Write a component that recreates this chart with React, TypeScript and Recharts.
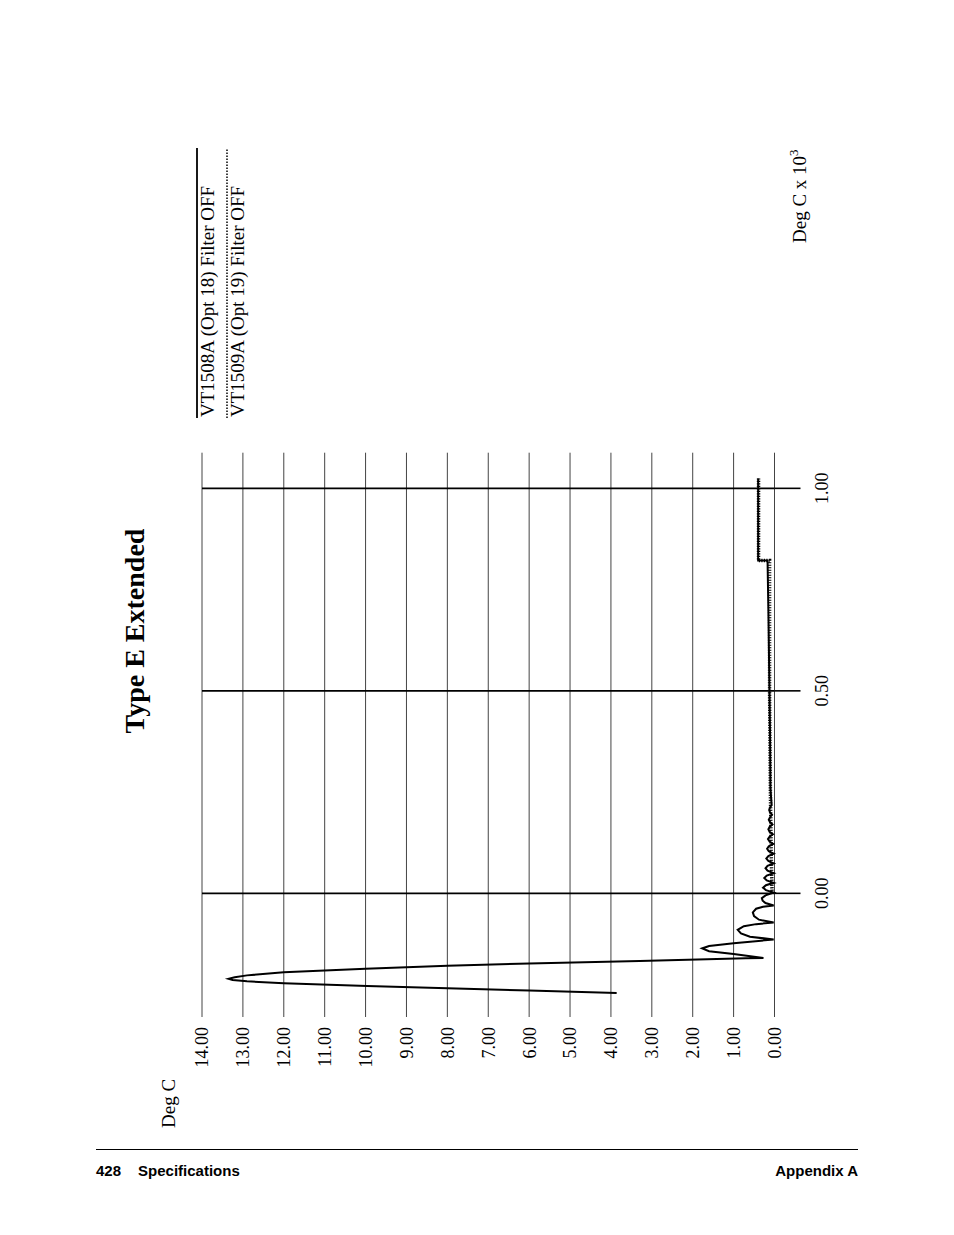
import { LineChart, Line, XAxis, YAxis, ReferenceLine, Legend } from 'recharts';

// the page is a scan with the chart turned on its side, so the chart is drawn
// upright in this box and then rotated -90deg onto the page
const CHART_W = 1235;
const CHART_H = 954;

const inputTicks = [0, 0.5, 1];
const degCTicks = [0, 1, 2, 3, 4, 5, 6, 7, 8, 9, 10, 11, 12, 13, 14];

// VT1508A (Opt 18) Filter OFF : input (Deg C x 10^3) -> error (Deg C)
const vt1508aInput = [
  -0.246, -0.240, -0.234, -0.229, -0.222, -0.217, -0.214, -0.211, -0.207, -0.2025, -0.195, -0.186, -0.179, -0.173, -0.167, -0.1605, -0.1595,
  -0.150, -0.143, -0.136, -0.130, -0.123, -0.114,
  -0.107, -0.099, -0.090, -0.081, -0.076, -0.072,
  -0.065, -0.056, -0.047, -0.038, -0.033, -0.030,
  -0.024, -0.018, -0.012, -0.005, 0.002,
  0.008, 0.014, 0.020, 0.026,
  0.032, 0.038, 0.044, 0.050,
  0.056, 0.062, 0.068, 0.074,
  0.080, 0.086, 0.092, 0.098,
  0.104, 0.110, 0.116, 0.122,
  0.128, 0.134, 0.140, 0.146,
  0.152, 0.158, 0.164, 0.170,
  0.176, 0.182, 0.188, 0.194,
  0.200, 0.206, 0.212, 0.218,
  0.26, 0.40, 0.55, 0.70, 0.822, 0.822, 0.90, 1.024,
];
const vt1508aError = [
  3.86, 6.0, 8.0, 9.96, 12.0, 12.9, 13.25, 13.35, 13.2, 12.9, 12.0, 10.0, 8.0, 6.0, 3.3, 0.7, 0.27,
  1.0, 1.6, 1.77, 1.6, 1.0, 0.02,
  0.6, 0.82, 0.9, 0.75, 0.45, 0.02,
  0.38, 0.5, 0.53, 0.45, 0.28, 0.02,
  0.22, 0.29, 0.31, 0.22, 0.02,
  0.21, 0.28, 0.21, 0.02,
  0.19, 0.25, 0.19, 0.02,
  0.17, 0.22, 0.17, 0.02,
  0.15, 0.2, 0.15, 0.02,
  0.14, 0.18, 0.14, 0.03,
  0.12, 0.16, 0.12, 0.04,
  0.12, 0.15, 0.12, 0.05,
  0.11, 0.14, 0.11, 0.06,
  0.11, 0.13, 0.11, 0.07,
  0.1, 0.11, 0.13, 0.15, 0.17, 0.4, 0.4, 0.4,
];

// VT1509A (Opt 19) Filter OFF
const vt1509aInput = [0.0, 0.1, 0.25, 0.5, 0.822, 0.822, 1.024];
const vt1509aError = [0.06, 0.08, 0.1, 0.12, 0.12, 0.39, 0.39];

const vt1508a = vt1508aInput.map((x, i) => ({ x, y: vt1508aError[i] }));
const vt1509a = vt1509aInput.map((x, i) => ({ x, y: vt1509aError[i] }));

const serif = '"Liberation Serif", "Times New Roman", serif';
const fmt = (v: number) => v.toFixed(2);

function LegendBox() {
  return (
    <svg width={272} height={70} style={{ display: 'block' }}>
      <line x1={0} y1={12} x2={270} y2={12} stroke="#000" strokeWidth={1.8} />
      <text x={1} y={29} fontFamily={serif} fontSize={19} fill="#000">VT1508A (Opt 18) Filter OFF</text>
      <line x1={0} y1={42} x2={270} y2={42} stroke="#000" strokeWidth={1.5} strokeDasharray="1.5 1.5" />
      <text x={1} y={59} fontFamily={serif} fontSize={19} fill="#000">VT1509A (Opt 19) Filter OFF</text>
    </svg>
  );
}

export default function App() {
  return (
    <div style={{ position: 'absolute', left: 0, top: 0, width: 954, height: 1235, overflow: 'hidden', background: '#fff' }}>
      <div
        style={{
          position: 'absolute',
          left: 0,
          top: 1235,
          width: CHART_W,
          height: CHART_H,
          transformOrigin: '0 0',
          transform: 'rotate(-90deg)',
        }}
      >
        <LineChart width={CHART_W} height={CHART_H} margin={{ top: 202, right: 452.7, bottom: 119.5, left: 165 }}>
          <XAxis
            dataKey="x"
            type="number"
            domain={[-0.288, 1.088]}
            ticks={inputTicks}
            interval={0}
            allowDataOverflow
            height={60}
            axisLine={false}
            tickSize={26}
            tickMargin={15}
            tickLine={{ stroke: '#000', strokeWidth: 1.6 }}
            tick={{ fill: '#000', fontSize: 18, fontFamily: serif }}
            tickFormatter={fmt}
          />
          <YAxis
            dataKey="y"
            type="number"
            domain={[0, 14]}
            ticks={degCTicks}
            interval={0}
            width={60}
            axisLine={false}
            tickSize={7}
            tickMargin={10}
            tickLine={{ stroke: '#444', strokeWidth: 1 }}
            tick={{ fill: '#000', fontSize: 18, fontFamily: serif }}
            tickFormatter={fmt}
          />
          {degCTicks.map((v) => (
            <ReferenceLine key={`y-${v}`} y={v} stroke="#444" strokeWidth={1} />
          ))}
          {inputTicks.map((v) => (
            <ReferenceLine key={`x-${v}`} x={v} stroke="#000" strokeWidth={1.6} />
          ))}
          <Legend
            layout="vertical"
            align="center"
            verticalAlign="middle"
            wrapperStyle={{ left: 817, top: 185, width: 272 }}
            content={() => <LegendBox />}
          />
          <Line
            data={vt1509a}
            dataKey="y"
            name="VT1509A (Opt 19) Filter OFF"
            type="linear"
            stroke="#000"
            strokeWidth={3.5}
            strokeDasharray="1.2 1.3"
            dot={false}
            isAnimationActive={false}
          />
          <Line
            data={vt1508a}
            dataKey="y"
            name="VT1508A (Opt 18) Filter OFF"
            type="linear"
            stroke="#000"
            strokeWidth={2}
            dot={false}
            isAnimationActive={false}
          />
        </LineChart>
        <svg
          width={CHART_W}
          height={CHART_H}
          style={{ position: 'absolute', left: 0, top: 0, pointerEvents: 'none' }}
        >
          <text x={604} y={144} textAnchor="middle" fontFamily={serif} fontWeight="bold" fontSize={28} fill="#000">
            Type E Extended
          </text>
          <text x={107} y={175} fontFamily={serif} fontSize={19} fill="#000">Deg C</text>
          <text x={992} y={806} fontFamily={serif} fontSize={19} fill="#000">
            Deg C x 10<tspan dy={-8} fontSize={13}>3</tspan>
          </text>
        </svg>
      </div>

      <div style={{ position: 'absolute', left: 96, top: 1149, width: 762, borderTop: '1.5px solid #000' }} />
      <div
        style={{
          position: 'absolute',
          left: 96,
          top: 1163,
          width: 762,
          fontFamily: '"Liberation Sans", Arial, sans-serif',
          fontWeight: 'bold',
          fontSize: 15,
          lineHeight: '15px',
          color: '#000',
        }}
      >
        <span>428</span>
        <span style={{ marginLeft: 17 }}>Specifications</span>
        <span style={{ position: 'absolute', right: 0, top: 0 }}>Appendix A</span>
      </div>
    </div>
  );
}
